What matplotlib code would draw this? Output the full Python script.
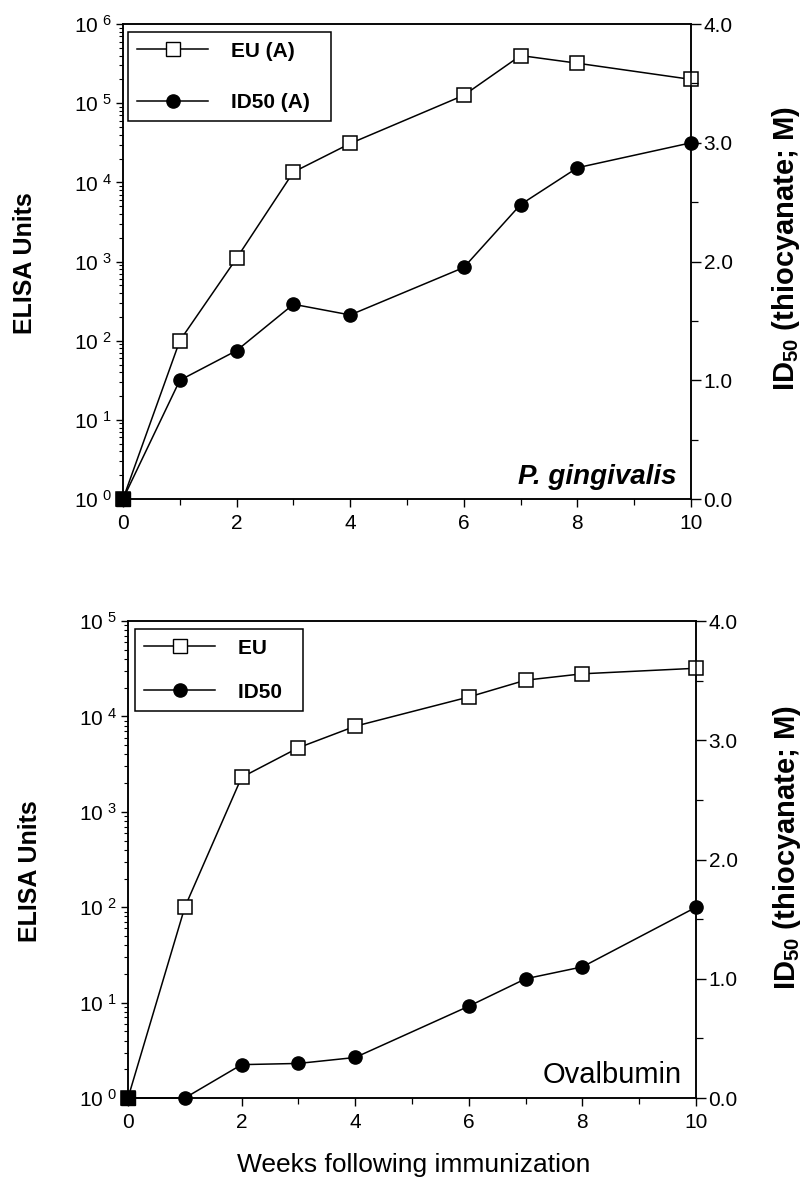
import numpy as np
import matplotlib
matplotlib.use('Agg')
import matplotlib.pyplot as plt
from matplotlib.ticker import FixedLocator, FuncFormatter, LogLocator, NullFormatter
from matplotlib.lines import Line2D

plt.rcParams['font.family'] = ['Liberation Sans', 'DejaVu Sans']
plt.rcParams['mathtext.default'] = 'regular'

# ── data ─────────────────────────────────────────────────────────────────────
weeks = [0, 1, 2, 3, 4, 6, 7, 8, 10]

pg_eu   = [1, 100, 1100, 13500, 31000, 126000, 400000, 320000, 200000]
pg_id50 = [0.0, 1.0, 1.25, 1.64, 1.55, 1.95, 2.48, 2.79, 3.0]

ova_eu   = [1, 100, 2300, 4700, 7900, 16000, 24000, 28000, 32000]
ova_id50 = [0.0, 0.0, 0.28, 0.29, 0.34, 0.77, 1.0, 1.1, 1.6]

panels = [
    dict(eu=pg_eu, id50=pg_id50, ymax=1e6, labels=['EU (A)  ', 'ID50 (A)  '],
         name='P. gingivalis', style='italic', weight='bold', name_size=20,
         box=[0.153, 0.5789, 0.7065, 0.4008], leg_anchor=(0.009, 0.983),
         leg_space=1.55, left_y=0.497, right_x=1.168, right_y=0.528),
    dict(eu=ova_eu, id50=ova_id50, ymax=1e5, labels=['EU  ', 'ID50  '],
         name='Ovalbumin', style='normal', weight='normal', name_size=21,
         box=[0.1592, 0.0734, 0.7065, 0.4025], leg_anchor=(0.012, 0.983),
         leg_space=1.2, left_y=0.476, right_x=1.16, right_y=0.526),
]

fig = plt.figure(figsize=(8.04, 11.85), dpi=100)

def pow_fmt(v, pos):
    return r'$10^{\ %d}$' % int(round(np.log10(v)))

for p in panels:
    ax = fig.add_axes(p['box'])
    ax2 = ax.twinx()

    ax.plot(weeks, p['eu'], color='black', lw=1.1, marker='s', ms=9.5,
            mfc='white', mec='black', mew=1.1, clip_on=False, zorder=3)
    # at week 0 the two symbols overlap and print as a solid square
    ax.plot(weeks[:1], p['eu'][:1], ls='none', marker='s', ms=9.5,
            mfc='black', mec='black', clip_on=False, zorder=4)
    ax2.plot(weeks, p['id50'], color='black', lw=1.1, marker='o', ms=9.5,
             mfc='black', mec='black', clip_on=False, zorder=3)

    ax.set_yscale('log')
    ax.set_ylim(1, p['ymax'])
    ax.set_xlim(0, 10)
    ax2.set_ylim(0, 4)

    ax.yaxis.set_major_locator(LogLocator(base=10, numticks=10))
    ax.yaxis.set_minor_locator(LogLocator(base=10, subs=np.arange(2, 10), numticks=20))
    ax.yaxis.set_major_formatter(FuncFormatter(pow_fmt))
    ax.yaxis.set_minor_formatter(NullFormatter())

    ax.xaxis.set_major_locator(FixedLocator([0, 2, 4, 6, 8, 10]))
    ax.xaxis.set_minor_locator(FixedLocator([1, 3, 5, 7, 9]))

    ax2.yaxis.set_major_locator(FixedLocator([0, 1, 2, 3, 4]))
    ax2.yaxis.set_minor_locator(FixedLocator([0.5, 1.5, 2.5, 3.5]))
    ax2.yaxis.set_major_formatter(FuncFormatter(lambda v, pos: f'{v:.1f}'))

    ax.tick_params(axis='y', which='major', direction='out', length=5, width=1.0,
                   labelsize=15, pad=3)
    ax.tick_params(axis='y', which='minor', direction='out', length=3, width=0.8)
    ax.tick_params(axis='x', which='major', direction='out', length=6, width=1.0,
                   labelsize=15, pad=5)
    ax.tick_params(axis='x', which='minor', direction='out', length=4, width=0.9)
    ax2.tick_params(axis='y', which='major', direction='out', length=7, width=1.0,
                    labelsize=15, pad=2)
    ax2.tick_params(axis='y', which='minor', direction='out', length=5, width=0.9)

    for a in (ax, ax2):
        for s in a.spines.values():
            s.set_linewidth(1.1)

    ax.text(-0.172, p['left_y'], 'ELISA Units', transform=ax.transAxes, rotation=90,
            ha='center', va='center', fontsize=18, fontweight='bold')
    ax.text(p['right_x'], p['right_y'], r'ID$_{50}$ (thiocyanate; M)',
            transform=ax.transAxes, rotation=90, ha='center', va='center',
            fontsize=21, fontweight='bold')

    ax2.text(0.975, 0.032, p['name'], transform=ax.transAxes, ha='right',
             va='baseline', fontsize=p['name_size'], style=p['style'],
             fontweight=p['weight'], zorder=5)

    handles = [
        Line2D([], [], color='black', lw=1.1, marker='s', ms=9.5, mfc='white', mec='black'),
        Line2D([], [], color='black', lw=1.1, marker='o', ms=9.5, mfc='black', mec='black'),
    ]
    leg = ax2.legend(handles, p['labels'], loc='upper left', bbox_to_anchor=p['leg_anchor'],
                     prop={'weight': 'bold', 'size': 15},
                     handlelength=3.4, handletextpad=1.1, labelspacing=p['leg_space'],
                     borderpad=0.45, borderaxespad=0, fancybox=False, framealpha=1,
                     edgecolor='black')
    leg.get_frame().set_linewidth(1.1)

fig.text(0.515, 0.011, 'Weeks following immunization', ha='center', va='baseline',
         fontsize=19)

fig.savefig('out.png', dpi=100)
